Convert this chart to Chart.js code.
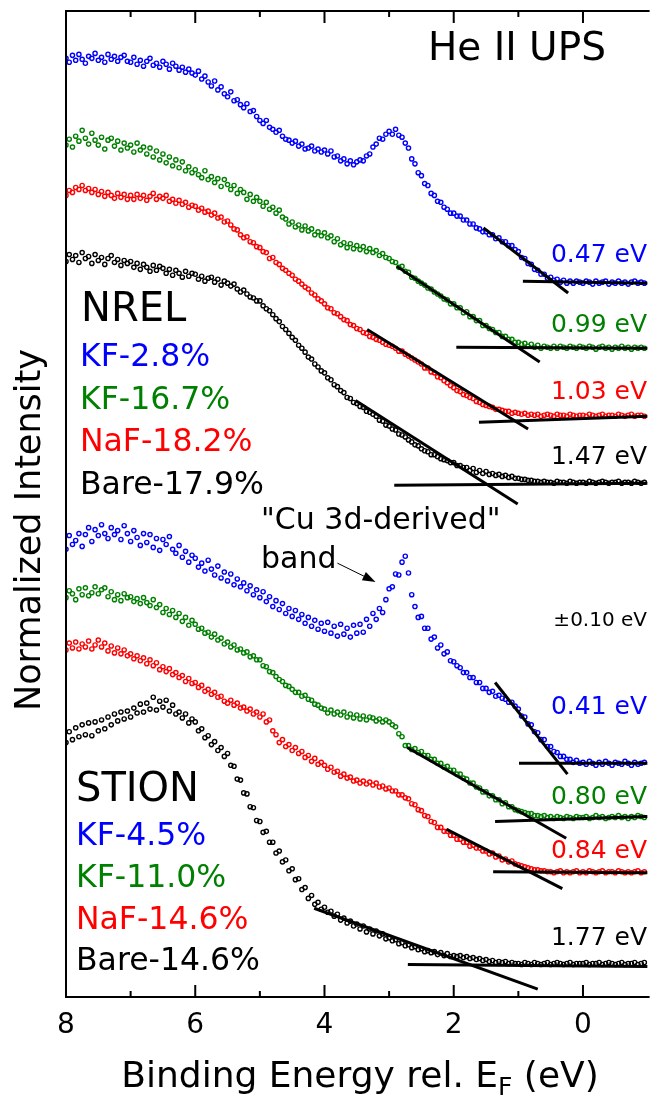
<!DOCTYPE html>
<html>
<head>
<meta charset="utf-8">
<script src="https://cdn.jsdelivr.net/npm/chart.js@4.4.1/dist/chart.umd.min.js"></script>
<style>
  html, body { margin: 0; padding: 0; background: #fff; overflow: hidden; }
  #wrap { width: 653px; height: 1101px; }
</style>
</head>
<body>
<div id="wrap"><canvas id="upsChart" width="653" height="1101"></canvas></div>
<script>
// binding energy grid (eV), 8 -> -0.95
const energy = [
  8, 7.95, 7.9, 7.85, 7.8, 7.75, 7.7, 7.65, 7.6, 7.55, 7.5, 7.45, 7.4, 7.35, 7.3, 7.25, 7.2, 7.15, 7.1, 7.05,
  7, 6.95, 6.9, 6.85, 6.8, 6.75, 6.7, 6.65, 6.6, 6.55, 6.5, 6.45, 6.4, 6.35, 6.3, 6.25, 6.2, 6.15, 6.1, 6.05,
  6, 5.95, 5.9, 5.85, 5.8, 5.75, 5.7, 5.65, 5.6, 5.55, 5.5, 5.45, 5.4, 5.35, 5.3, 5.25, 5.2, 5.15, 5.1, 5.05,
  5, 4.95, 4.9, 4.85, 4.8, 4.75, 4.7, 4.65, 4.6, 4.55, 4.5, 4.45, 4.4, 4.35, 4.3, 4.25, 4.2, 4.15, 4.1, 4.05,
  4, 3.95, 3.9, 3.85, 3.8, 3.75, 3.7, 3.65, 3.6, 3.55, 3.5, 3.45, 3.4, 3.35, 3.3, 3.25, 3.2, 3.15, 3.1, 3.05,
  3, 2.95, 2.9, 2.85, 2.8, 2.75, 2.7, 2.65, 2.6, 2.55, 2.5, 2.45, 2.4, 2.35, 2.3, 2.25, 2.2, 2.15, 2.1, 2.05,
  2, 1.95, 1.9, 1.85, 1.8, 1.75, 1.7, 1.65, 1.6, 1.55, 1.5, 1.45, 1.4, 1.35, 1.3, 1.25, 1.2, 1.15, 1.1, 1.05,
  1, 0.95, 0.9, 0.85, 0.8, 0.75, 0.7, 0.65, 0.6, 0.55, 0.5, 0.45, 0.4, 0.35, 0.3, 0.25, 0.2, 0.15, 0.1, 0.05,
  0, -0.05, -0.1, -0.15, -0.2, -0.25, -0.3, -0.35, -0.4, -0.45, -0.5, -0.55, -0.6, -0.65, -0.7, -0.75, -0.8, -0.85, -0.9, -0.95
];

// NREL spectra (normalized intensity, offset)
const nrelKF28 = [
  95.2, 94.8, 95.5, 95.0, 95.6, 95.1, 94.7, 95.4, 95.2, 95.7, 95.0, 95.3, 94.8, 95.6, 95.1, 95.4, 94.9, 95.3, 95.5, 94.9,
  94.8, 95.3, 94.6, 95.0, 94.4, 94.9, 95.2, 94.5, 94.7, 94.3, 94.9, 94.6, 94.1, 94.7, 94.4, 94.0, 94.3, 93.8, 94.1, 93.7,
  93.5, 93.9, 93.1, 93.4, 92.8, 92.4, 92.9, 92.0, 92.3, 91.6, 91.3, 91.8, 90.9, 91.0, 90.5, 90.2, 90.6, 89.8, 89.9, 89.3,
  88.9, 88.6, 88.9, 88.2, 88.0, 87.7, 87.9, 87.3, 87.0, 86.9, 86.6, 86.8, 86.3, 86.5, 86.0, 86.1, 86.3, 85.8, 86.0, 85.7,
  85.9, 85.5, 85.8, 85.2, 85.3, 84.8, 85.0, 84.5, 84.8, 84.4, 84.7, 84.9, 84.8, 85.3, 85.5, 86.2, 86.5, 87.1, 87.0, 87.5,
  87.8, 87.5, 88.0, 87.4, 87.2, 86.6, 86.1, 85.0, 84.5, 83.6, 83.3, 82.5, 82.3, 81.5, 81.3, 80.7, 80.6, 80.1, 79.9, 79.5,
  79.5, 79.2, 79.2, 78.8, 78.8, 78.4, 78.4, 78.0, 77.9, 77.6, 77.6, 77.3, 77.3, 76.9, 77.0, 76.6, 76.6, 76.2, 76.2, 75.8,
  75.6, 75.0, 74.9, 74.4, 74.3, 73.8, 73.7, 73.3, 73.3, 72.9, 73.0, 72.7, 72.8, 72.5, 72.7, 72.4, 72.6, 72.4, 72.6, 72.5,
  72.4, 72.6, 72.5, 72.3, 72.6, 72.4, 72.5, 72.6, 72.3, 72.5, 72.4, 72.6, 72.4, 72.5, 72.3, 72.5, 72.6, 72.4, 72.5, 72.4
];
const nrelKF167 = [
  86.4, 87.0, 86.2, 87.3, 86.8, 87.9, 87.1, 86.5, 87.6, 86.9, 86.4, 87.2, 86.0, 86.9, 87.1, 86.3, 86.8, 85.9, 86.6, 86.1,
  86.4, 85.7, 86.6, 85.9, 86.2, 85.5, 86.1, 85.2, 85.8, 84.9, 85.5, 84.6, 85.2, 84.3, 84.9, 84.1, 84.7, 83.8, 84.2, 83.6,
  83.9, 83.4, 83.1, 83.8, 82.9, 83.2, 82.6, 83.0, 82.2, 82.9, 82.4, 81.9, 82.3, 81.5, 81.9, 81.6, 80.9, 81.4, 80.7, 81.1,
  80.7, 80.2, 80.6, 79.9, 80.1, 79.5, 79.8, 79.1, 78.9, 78.4, 78.6, 78.1, 78.3, 77.8, 78.2, 77.7, 77.9, 77.3, 77.6, 77.2,
  77.5, 77.0, 77.2, 76.6, 76.9, 76.3, 76.5, 76.0, 76.4, 75.9, 76.2, 75.8, 76.1, 75.6, 75.9, 75.5, 75.7, 75.2, 75.4, 75.0,
  74.9, 74.6, 74.5, 74.0, 74.1, 73.6, 73.5, 73.0, 72.9, 72.6, 72.4, 72.2, 71.9, 71.8, 71.5, 71.3, 71.1, 70.8, 70.7, 70.3,
  70.3, 69.9, 69.9, 69.4, 69.5, 69.0, 69.0, 68.6, 68.6, 68.1, 68.1, 67.8, 67.7, 67.4, 67.4, 67.0, 67.0, 66.7, 66.7, 66.4,
  66.4, 66.2, 66.3, 66.0, 66.2, 65.9, 66.1, 65.8, 66.0, 65.9, 65.8, 66.0, 65.8, 66.0, 65.9, 65.8, 66.0, 65.9, 65.8, 66.0,
  65.9, 65.8, 66.0, 65.9, 65.7, 65.9, 66.0, 65.8, 65.9, 65.7, 65.9, 65.8, 66.0, 65.8, 65.9, 65.7, 65.9, 65.8, 65.9, 65.8
];
const nrelNaF182 = [
  81.3, 81.8, 81.6, 82.1, 81.9, 82.3, 81.8, 82.0, 81.6, 81.9, 81.4, 81.7, 81.2, 81.6, 81.3, 81.0, 81.5, 81.1, 81.4, 80.9,
  81.3, 80.9, 81.4, 81.0, 81.3, 80.8, 81.2, 81.5, 80.9, 81.2, 81.0, 81.3, 80.7, 80.9, 80.5, 80.8, 80.4, 80.6, 80.1, 80.3,
  80.2, 79.8, 80.0, 79.6, 79.7, 79.3, 79.5, 79.0, 79.1, 78.6, 78.7, 78.3, 77.9, 77.8, 77.3, 77.0, 77.1, 76.6, 76.5, 76.1,
  76.0, 75.6, 75.5, 74.9, 75.0, 74.5, 74.3, 73.9, 73.7, 73.4, 73.2, 72.8, 72.6, 72.3, 72.0, 71.8, 71.4, 71.2, 70.8, 70.6,
  70.3, 69.9, 69.8, 69.4, 69.3, 69.0, 68.7, 68.6, 68.2, 68.1, 67.8, 67.7, 67.4, 67.3, 67.0, 66.9, 66.7, 66.6, 66.4, 66.2,
  66.1, 66.0, 65.8, 65.5, 65.5, 65.2, 65.0, 64.8, 64.6, 64.4, 64.2, 63.8, 63.8, 63.4, 63.3, 62.9, 62.8, 62.5, 62.3, 62.0,
  61.8, 61.5, 61.4, 61.1, 61.0, 60.8, 60.7, 60.4, 60.3, 60.1, 60.0, 59.9, 59.8, 59.6, 59.6, 59.5, 59.4, 59.4, 59.2, 59.3,
  59.2, 59.1, 59.2, 59.0, 59.1, 59.0, 59.1, 58.9, 59.0, 59.1, 59.0, 58.9, 59.1, 59.0, 59.0, 58.9, 59.1, 59.0, 58.9, 59.0,
  59.0, 58.9, 59.1, 59.0, 58.9, 59.0, 59.1, 58.9, 59.0, 59.0, 58.9, 59.1, 59.0, 58.9, 59.0, 59.1, 58.9, 59.0, 59.0, 58.9
];
const nrelBare179 = [
  74.6, 75.3, 74.8, 75.2, 74.5, 75.5, 74.9, 75.1, 74.4, 75.3, 74.7, 75.0, 74.3, 74.9, 75.2, 74.5, 74.8, 74.2, 74.7, 74.4,
  74.6, 74.0, 74.4, 73.8, 74.3, 74.0, 73.6, 74.2, 73.7, 74.1, 73.9, 73.4, 73.8, 73.2, 73.7, 73.4, 73.0, 73.6, 73.1, 73.4,
  73.3, 72.8, 73.1, 72.6, 72.9, 73.0, 72.5, 72.8, 72.2, 72.6, 72.4, 72.1, 72.3, 71.8, 71.5, 71.7, 71.3, 71.0, 70.9, 70.6,
  70.6, 70.1, 69.8, 69.6, 69.2, 68.8, 68.5, 68.0, 67.7, 67.3, 66.9, 66.6, 66.1, 65.8, 65.4, 64.9, 64.7, 64.2, 63.9, 63.5,
  63.3, 62.8, 62.6, 62.1, 61.9, 61.5, 61.3, 60.8, 60.7, 60.3, 60.2, 59.9, 59.8, 59.4, 59.3, 59.1, 58.9, 58.5, 58.4, 58.0,
  57.9, 57.6, 57.5, 57.1, 57.0, 56.8, 56.5, 56.3, 56.0, 55.9, 55.6, 55.4, 55.3, 55.0, 55.0, 54.8, 54.6, 54.5, 54.4, 54.2,
  54.2, 53.9, 53.9, 53.7, 53.7, 53.4, 53.6, 53.2, 53.4, 53.1, 53.3, 53.0, 53.1, 52.9, 53.0, 52.8, 52.9, 52.7, 52.8, 52.6,
  52.6, 52.5, 52.5, 52.4, 52.4, 52.3, 52.3, 52.2, 52.3, 52.2, 52.2, 52.1, 52.3, 52.2, 52.2, 52.1, 52.3, 52.2, 52.1, 52.2,
  52.2, 52.1, 52.3, 52.2, 52.1, 52.2, 52.3, 52.2, 52.1, 52.2, 52.2, 52.3, 52.1, 52.2, 52.2, 52.1, 52.3, 52.2, 52.1, 52.2
];

// STION spectra
const stionKF45 = [
  45.4, 46.8, 45.9, 46.3, 47.0, 45.7, 46.9, 47.6, 46.2, 47.4, 46.8, 47.9, 47.0, 46.5, 47.6, 46.9, 47.3, 46.4, 47.8, 47.0,
  46.2, 47.3, 46.6, 45.8, 47.0, 46.1, 46.9, 45.6, 46.5, 45.3, 46.4, 45.9, 46.7, 45.4, 45.0, 45.8, 44.6, 45.2, 44.1, 44.8,
  44.5, 43.6, 44.0, 43.2, 44.3, 43.4, 42.8, 43.7, 42.5, 43.1, 42.2, 42.9, 41.8, 42.4, 41.6, 42.0, 41.2, 41.7, 40.8, 41.3,
  40.5, 41.1, 40.1, 40.6, 39.6, 40.2, 39.3, 39.9, 38.9, 39.4, 38.6, 39.2, 38.3, 38.8, 37.9, 38.5, 37.6, 38.2, 37.3, 37.9,
  37.1, 38.0, 36.9, 37.6, 36.6, 37.8, 36.8, 37.4, 36.5, 37.7, 36.9, 37.8, 37.0, 38.3, 37.6, 38.9, 38.3, 39.4, 39.0, 40.3,
  41.4, 41.6, 42.9, 42.8, 44.1, 44.7, 43.0, 40.8, 39.6, 38.5, 38.6, 37.4, 37.4, 36.3, 36.5, 35.4, 35.7, 34.8, 35.0, 34.1,
  34.0, 33.6, 33.4, 32.9, 32.9, 32.4, 32.4, 31.9, 31.9, 31.3, 31.3, 30.9, 31.0, 30.5, 30.6, 30.3, 30.2, 29.9, 29.9, 29.5,
  29.2, 28.5, 28.4, 27.7, 27.6, 26.9, 26.8, 26.1, 26.1, 25.4, 25.4, 24.9, 24.8, 24.4, 24.4, 24.1, 24.1, 23.8, 24.0, 23.7,
  23.8, 23.6, 23.9, 23.7, 23.5, 23.8, 23.6, 23.9, 23.7, 23.5, 23.8, 23.7, 23.6, 23.9, 23.7, 23.5, 23.8, 23.6, 23.7, 23.8
];
const stionKF110 = [
  40.5, 41.2, 40.9, 40.3, 41.4, 40.8, 41.5, 40.7, 41.0, 41.6, 40.9, 41.3, 41.5, 40.6, 41.1, 40.3, 40.8, 40.2, 40.9, 40.5,
  40.6, 40.1, 40.4, 39.9, 40.5, 40.0, 39.7, 40.3, 39.5, 39.8, 39.0, 39.4, 38.8, 39.2, 38.5, 38.9, 38.1, 38.5, 37.7, 38.2,
  37.8, 37.3, 37.4, 36.9, 37.0, 36.5, 36.8, 36.2, 36.4, 35.8, 36.0, 35.5, 35.7, 35.2, 35.3, 34.9, 35.0, 34.5, 34.6, 34.2,
  34.2, 33.6, 33.5, 33.0, 32.9, 32.5, 32.2, 32.0, 31.6, 31.5, 31.2, 30.9, 30.9, 30.5, 30.6, 30.2, 30.1, 29.7, 29.6, 29.3,
  29.2, 28.8, 29.1, 28.7, 28.9, 28.6, 28.9, 28.4, 28.7, 28.3, 28.6, 28.2, 28.5, 28.1, 28.4, 28.3, 28.0, 28.2, 27.9, 28.1,
  27.9, 27.6, 27.4, 26.7, 26.4, 25.5, 25.5, 25.1, 25.2, 24.8, 24.9, 24.5, 24.5, 24.1, 24.1, 23.7, 23.7, 23.3, 23.4, 23.0,
  23.0, 22.6, 22.6, 22.2, 22.1, 21.7, 21.7, 21.3, 21.2, 20.8, 20.8, 20.4, 20.4, 20.0, 20.0, 19.6, 19.7, 19.3, 19.3, 19.0,
  18.9, 18.8, 18.7, 18.6, 18.6, 18.4, 18.4, 18.3, 18.4, 18.2, 18.3, 18.1, 18.3, 18.2, 18.1, 18.3, 18.2, 18.1, 18.3, 18.2,
  18.2, 18.3, 18.1, 18.2, 18.4, 18.2, 18.3, 18.1, 18.2, 18.3, 18.2, 18.4, 18.2, 18.3, 18.1, 18.3, 18.2, 18.4, 18.3, 18.2
];
const stionNaF146 = [
  35.2, 35.9, 35.4, 36.0, 35.3, 35.8, 35.5, 36.1, 35.3, 35.7, 36.2, 35.5, 35.9, 35.1, 35.6, 34.9, 35.4, 34.8, 35.2, 34.6,
  34.8, 34.3, 34.6, 34.1, 34.4, 33.8, 34.2, 33.6, 33.9, 33.2, 33.5, 33.0, 33.3, 32.7, 32.9, 32.4, 32.6, 32.0, 32.3, 31.8,
  31.9, 31.4, 31.6, 31.0, 31.2, 30.7, 30.9, 30.4, 30.5, 30.0, 29.8, 30.1, 29.6, 29.8, 29.3, 29.4, 29.0, 29.2, 28.7, 28.9,
  28.4, 28.7, 27.9, 28.1, 27.0, 26.6, 25.8, 26.1, 25.4, 25.6, 25.0, 25.3, 24.7, 24.9, 24.3, 24.5, 23.9, 24.2, 23.6, 23.8,
  23.5, 23.1, 23.3, 22.8, 22.9, 22.4, 22.6, 22.2, 22.3, 21.9, 22.0, 21.7, 21.9, 21.6, 21.8, 21.5, 21.7, 21.3, 21.4, 21.1,
  21.2, 20.9, 20.9, 20.5, 20.5, 20.2, 20.1, 19.6, 19.5, 19.0, 18.9, 18.4, 18.3, 17.8, 17.7, 17.2, 17.2, 16.8, 16.8, 16.4,
  16.4, 16.0, 16.0, 15.7, 15.7, 15.3, 15.4, 15.1, 15.1, 14.8, 14.8, 14.5, 14.6, 14.2, 14.3, 13.9, 14.0, 13.7, 13.8, 13.5,
  13.4, 13.3, 13.2, 13.1, 13.0, 12.9, 12.9, 12.8, 12.8, 12.7, 12.7, 12.6, 12.7, 12.8, 12.6, 12.7, 12.6, 12.7, 12.8, 12.6,
  12.7, 12.6, 12.8, 12.7, 12.6, 12.7, 12.8, 12.6, 12.7, 12.7, 12.6, 12.8, 12.7, 12.6, 12.7, 12.6, 12.7, 12.8, 12.6, 12.7
];
const stionBare146 = [
  25.8, 26.9, 26.1, 27.3, 26.4, 27.6, 26.6, 27.8, 26.5, 27.9, 27.0, 28.1, 27.2, 28.4, 27.6, 28.7, 28.0, 28.9, 28.2, 29.0,
  28.4, 29.3, 28.8, 29.7, 28.9, 29.8, 29.2, 30.4, 29.1, 30.0, 29.4, 30.1, 29.0, 29.6, 28.7, 28.9, 28.3, 28.7, 27.8, 28.2,
  27.9, 27.0, 27.2, 26.3, 26.5, 25.6, 25.9, 25.0, 25.3, 24.4, 24.7, 23.5, 23.4, 22.1, 22.0, 20.7, 20.6, 19.3, 19.2, 17.9,
  17.8, 16.7, 16.8, 15.7, 15.7, 14.6, 14.8, 13.7, 13.9, 12.8, 13.0, 11.9, 12.0, 10.9, 11.1, 10.0, 10.3, 9.4, 9.6, 8.9,
  9.1, 8.6, 8.7, 8.2, 8.4, 7.8, 8.0, 7.5, 7.7, 7.2, 7.4, 6.9, 7.2, 6.6, 6.9, 6.4, 6.7, 6.2, 6.4, 5.9,
  6.0, 5.7, 5.8, 5.4, 5.5, 5.2, 5.3, 5.0, 5.1, 4.8, 4.9, 4.6, 4.7, 4.5, 4.6, 4.3, 4.5, 4.2, 4.4, 4.1,
  4.2, 4.1, 4.2, 4.0, 4.1, 3.9, 4.0, 3.8, 3.9, 3.7, 3.8, 3.6, 3.7, 3.5, 3.6, 3.5, 3.6, 3.4, 3.5, 3.4,
  3.4, 3.3, 3.5, 3.4, 3.3, 3.5, 3.4, 3.3, 3.4, 3.5, 3.3, 3.4, 3.5, 3.4, 3.3, 3.4, 3.5, 3.3, 3.4, 3.4,
  3.4, 3.5, 3.3, 3.4, 3.4, 3.5, 3.3, 3.4, 3.5, 3.4, 3.3, 3.4, 3.5, 3.3, 3.4, 3.4, 3.5, 3.3, 3.4, 3.5
];

// sample names, colours and band-edge values
const nrelSamples = ["KF-2.8%", "KF-16.7%", "NaF-18.2%", "Bare-17.9%"];
const stionSamples = ["KF-4.5%", "KF-11.0%", "NaF-14.6%", "Bare-14.6%"];
const seriesColors = ["#0000ff", "#008000", "#ff0000", "#000000"];
const edgeLabels = ["0.47 eV", "0.99 eV", "1.03 eV", "1.47 eV", "0.41 eV", "0.80 eV", "0.84 eV", "1.77 eV"];

// linear extrapolation lines (energy, intensity), same order as the spectra
const slopeE0 = [1.54, 2.88, 3.34, 3.52, 1.36, 2.72, 2.11, 4.16];
const slopeI0 = [78.0, 74.1, 67.7, 60.5, 31.9, 25.3, 17.0, 9.0];
const slopeE1 = [0.23, 0.67, 0.85, 1.01, 0.24, 0.26, 0.32, 0.70];
const slopeI1 = [71.4, 64.4, 57.6, 50.0, 22.6, 16.1, 11.0, 0.8];
const baseE0 = [0.93, 1.96, 1.61, 2.92, 0.99, 1.36, 1.39, 2.71];
const baseI0 = [72.6, 65.9, 58.3, 51.9, 23.7, 17.8, 12.7, 3.3];
const baseE1 = [-1, -1, -1, -1, -1, -1, -1, -1];
const baseI1 = [72.4, 65.8, 58.9, 52.1, 23.7, 18.3, 12.6, 3.1];

const xTicks = [8, 7, 6, 5, 4, 3, 2, 1, 0];
const xTickLabels = ["8", "", "6", "", "4", "", "2", "", "0"];

const FONT = "'DejaVu Sans', Verdana, sans-serif";

const spectra = [nrelKF28, nrelKF167, nrelNaF182, nrelBare179, stionKF45, stionKF110, stionNaF146, stionBare146];

const datasets = [];
spectra.forEach((vals, i) => {
    datasets.push({
        data: energy.map((e, k) => ({ x: e, y: vals[k] })),
        borderColor: seriesColors[i % 4],
        backgroundColor: "rgba(255,255,255,0)",
        pointRadius: 2.1,
        pointBorderWidth: 1.4,
        showLine: false,
        order: 2
    });
});
for (let i = 0; i < 8; i++) {
    datasets.push({
        data: [{ x: slopeE0[i], y: slopeI0[i] }, { x: slopeE1[i], y: slopeI1[i] }],
        borderColor: "#000", borderWidth: 3, showLine: true, pointRadius: 0, order: 1
    });
    datasets.push({
        data: [{ x: baseE0[i], y: baseI0[i] }, { x: baseE1[i], y: baseI1[i] }],
        borderColor: "#000", borderWidth: 3, showLine: true, pointRadius: 0, order: 1
    });
}

function text(ctx, str, x, y, size, color, align) {
    ctx.font = size + "px " + FONT;
    ctx.fillStyle = color;
    ctx.textAlign = align || "left";
    ctx.textBaseline = "middle";
    ctx.fillText(str, x, y);
}

const decorations = {
    id: "decorations",
    afterDraw(chart) {
        const { ctx, chartArea: a, scales: { x, y } } = chart;
        ctx.save();

        // frame: top, left, bottom
        ctx.strokeStyle = "#000";
        ctx.lineWidth = 2;
        ctx.beginPath();
        ctx.moveTo(a.right + 2, a.top);
        ctx.lineTo(a.left, a.top);
        ctx.lineTo(a.left, a.bottom);
        ctx.lineTo(a.right + 2, a.bottom);
        ctx.stroke();

        // ticks (inward, mirrored on top)
        xTicks.forEach((v, i) => {
            const px = x.getPixelForValue(v);
            const len = xTickLabels[i] ? 12 : 6;
            ctx.beginPath();
            ctx.moveTo(px, a.bottom); ctx.lineTo(px, a.bottom - len);
            ctx.moveTo(px, a.top); ctx.lineTo(px, a.top + len);
            ctx.stroke();
            if (xTickLabels[i]) text(ctx, xTickLabels[i], px, a.bottom + 29, 28, "#000", "center");
        });

        // x title with subscript
        const t1 = "Binding Energy rel. E", t2 = "F", t3 = " (eV)";
        ctx.font = "36px " + FONT;
        const w1 = ctx.measureText(t1).width, w3 = ctx.measureText(t3).width;
        ctx.font = "25px " + FONT;
        const w2 = ctx.measureText(t2).width;
        let sx = 360 - (w1 + w2 + w3) / 2;
        text(ctx, t1, sx, 1078, 36, "#000");
        text(ctx, t2, sx + w1, 1088, 25, "#000");
        text(ctx, t3, sx + w1 + w2, 1078, 36, "#000");

        // y title
        ctx.save();
        ctx.translate(31, 530);
        ctx.rotate(-Math.PI / 2);
        text(ctx, "Normalized Intensity", 0, 0, 35, "#000", "center");
        ctx.restore();

        text(ctx, "He II UPS", 428, 50, 39, "#000");

        // group labels
        text(ctx, "NREL", 81, 311, 40, "#000");
        nrelSamples.forEach((s, i) => text(ctx, s, 80, 358 + i * 42.5, 31.5, seriesColors[i]));
        text(ctx, "STION", 76, 791, 40, "#000");
        stionSamples.forEach((s, i) => text(ctx, s, 76, 837 + i * 41.7, 31.5, seriesColors[i]));

        // band edge values
        const edgeY = [255, 325, 392, 457, 707, 797, 851, 938];
        edgeLabels.forEach((s, i) => text(ctx, s, 647, edgeY[i], 25, seriesColors[i % 4], "right"));
        text(ctx, "\u00b10.10 eV", 647, 621, 20, "#000", "right");

        // Cu 3d annotation + arrow
        text(ctx, "\"Cu 3d-derived\"", 261, 521, 30, "#000");
        text(ctx, "band", 261, 560, 30, "#000");
        const ax0 = x.getPixelForValue(3.80), ay0 = y.getPixelForValue(44.0);
        const ax1 = x.getPixelForValue(3.21), ay1 = y.getPixelForValue(42.1);
        const ang = Math.atan2(ay1 - ay0, ax1 - ax0);
        ctx.lineWidth = 1;
        ctx.beginPath();
        ctx.moveTo(ax0, ay0);
        ctx.lineTo(ax1 - 10 * Math.cos(ang), ay1 - 10 * Math.sin(ang));
        ctx.stroke();
        ctx.fillStyle = "#000";
        ctx.beginPath();
        ctx.moveTo(ax1, ay1);
        ctx.lineTo(ax1 - 13 * Math.cos(ang) + 4.5 * Math.sin(ang), ay1 - 13 * Math.sin(ang) - 4.5 * Math.cos(ang));
        ctx.lineTo(ax1 - 13 * Math.cos(ang) - 4.5 * Math.sin(ang), ay1 - 13 * Math.sin(ang) + 4.5 * Math.cos(ang));
        ctx.closePath();
        ctx.fill();

        ctx.restore();
    }
};

new Chart(document.getElementById("upsChart").getContext("2d"), {
    type: "scatter",
    data: { datasets },
    options: {
        responsive: false,
        animation: false,
        layout: { padding: { left: 66, top: 11, right: 0, bottom: 104 } },
        plugins: { legend: { display: false }, tooltip: { enabled: false } },
        scales: {
            x: { type: "linear", reverse: true, min: -1, max: 8, display: false },
            y: { type: "linear", min: 0, max: 100, display: false }
        }
    },
    plugins: [decorations]
});
</script>
</body>
</html>
